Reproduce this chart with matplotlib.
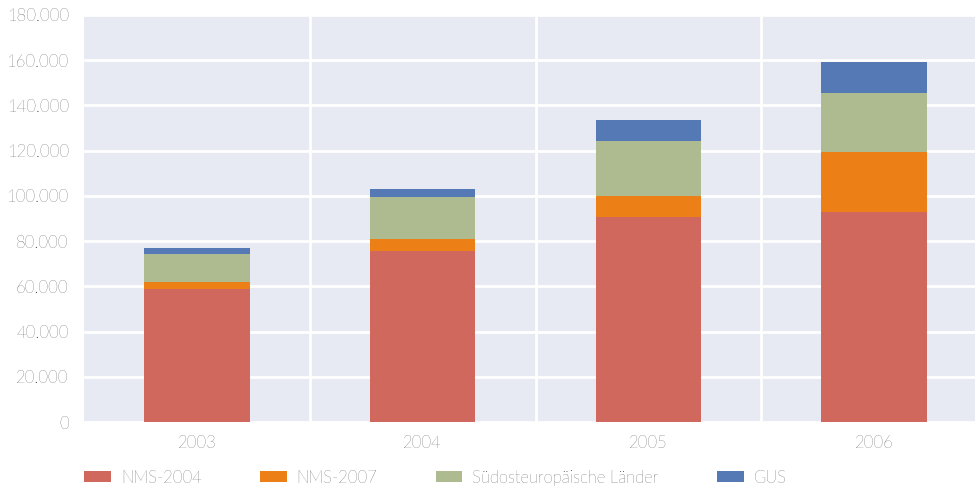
import numpy as np
import matplotlib
matplotlib.use('Agg')
import matplotlib.pyplot as plt
from matplotlib.ticker import FuncFormatter

years = ['2003', '2004', '2005', '2006']
nms2004 = [58700, 75600, 90700, 92900]
nms2007 = [3200, 5300, 9250, 26500]
suedost = [12400, 18600, 24350, 26100]
gus = [2600, 3500, 9300, 13700]

series = [('NMS-2004', nms2004, '#D0685E'),
          ('NMS-2007', nms2007, '#EC7F15'),
          ('Südosteuropäische Länder', suedost, '#AEBA8F'),
          ('GUS', gus, '#5479B4')]

plt.rcParams['font.family'] = ['Lato', 'DejaVu Sans']
plt.rcParams['font.weight'] = 'light'

fig = plt.figure(figsize=(9.75, 4.86), dpi=100)
ax = fig.add_axes([84/975, 64/486, 891/975, 407/486])
ax.set_facecolor('#E8EAF3')

x = np.arange(len(years))
bottom = np.zeros(len(years))
for name, vals, col in series:
    ax.bar(x, vals, width=105/225, bottom=bottom, color=col, label=name, zorder=3)
    bottom += np.array(vals)

ax.set_ylim(0, 180000)
ax.set_yticks(np.arange(0, 180001, 20000))
ax.yaxis.set_major_formatter(FuncFormatter(lambda v, p: f'{int(v):,}'.replace(',', '.')))
ax.set_xlim(-0.5, 3.5 - 12/225)
ax.set_xticks(x)
ax.set_xticklabels(years)
ax.set_xticks(x[:-1] + 0.5, minor=True)

ax.grid(axis='y', which='major', color='white', linewidth=2, zorder=1)
ax.grid(axis='x', which='minor', color='white', linewidth=2, zorder=1)
ax.grid(axis='x', which='major', visible=False)
for s in ax.spines.values():
    s.set_visible(False)
ax.tick_params(which='both', length=0, labelsize=12, colors='#111111')
ax.tick_params(axis='y', pad=11)
ax.tick_params(axis='x', pad=9)

fig.legend(loc='lower left', bbox_to_anchor=(69/975, -0.03), ncol=4, frameon=False,
           fontsize=12, handlelength=1.6, handleheight=0.6, handletextpad=0.6,
           columnspacing=3.5, labelcolor='#111111')

fig.savefig('out.png', dpi=100)
